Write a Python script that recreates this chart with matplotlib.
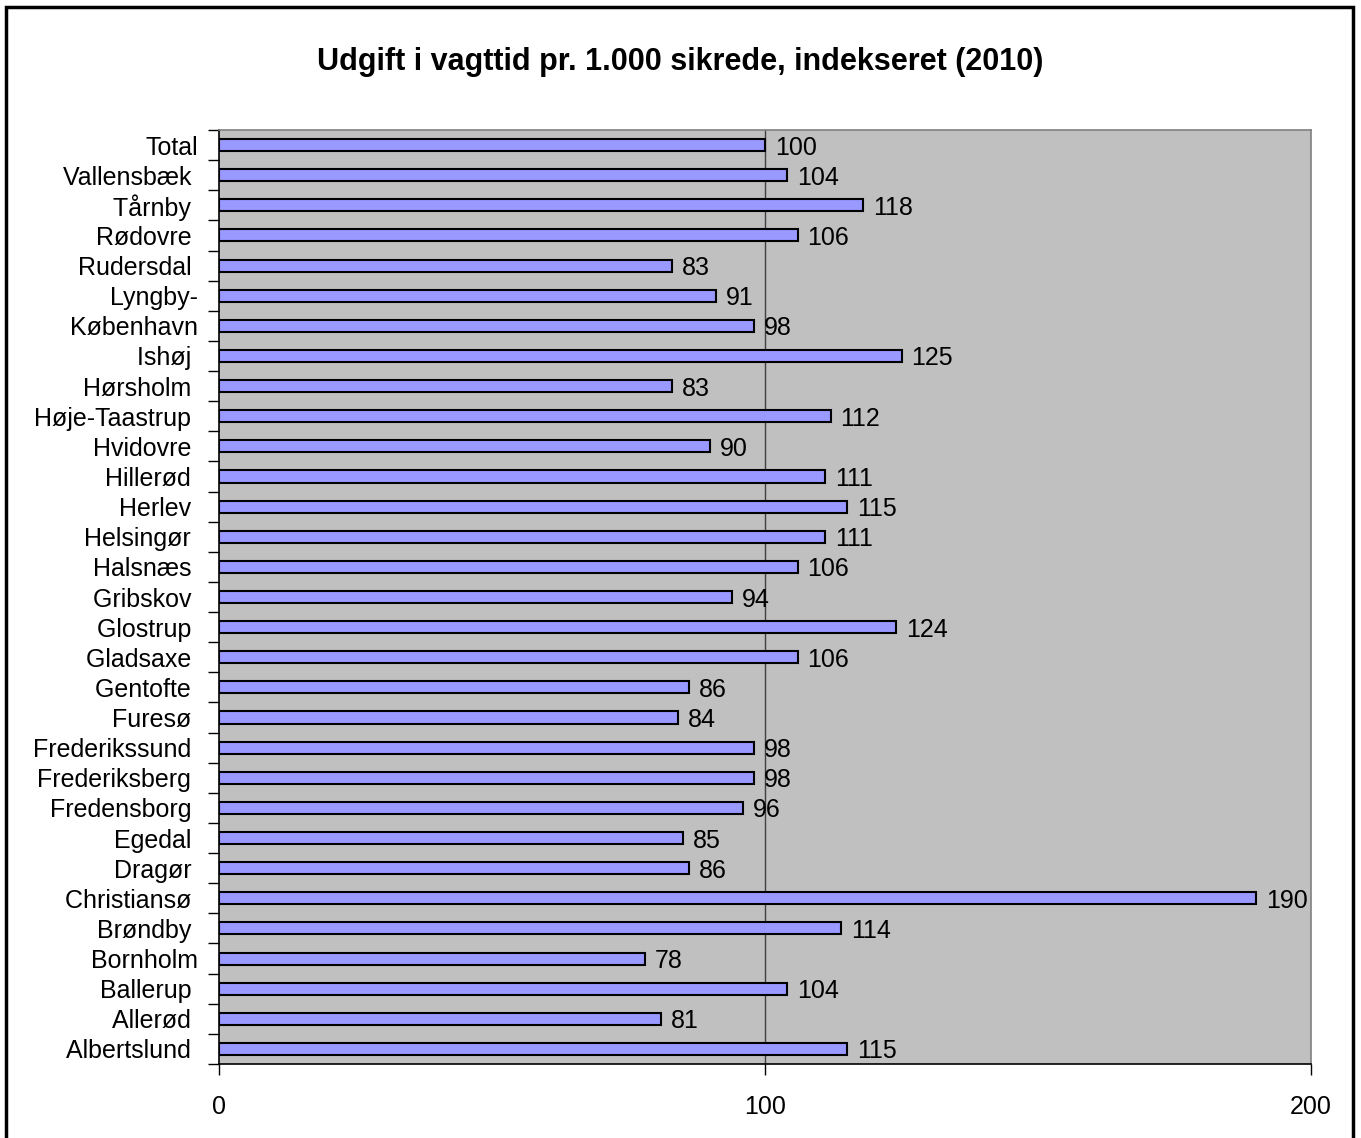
import matplotlib
matplotlib.use("Agg")
import matplotlib.pyplot as plt
from matplotlib.patches import Rectangle
import numpy as np

plt.rcParams['font.family'] = ['Liberation Sans', 'DejaVu Sans']

# bottom to top
categories = ["Albertslund ", "Allerød ", "Ballerup ", "Bornholm", "Brøndby ", "Christiansø ",
              "Dragør ", "Egedal ", "Fredensborg ", "Frederiksberg ", "Frederikssund ", "Furesø ",
              "Gentofte ", "Gladsaxe ", "Glostrup ", "Gribskov ", "Halsnæs ", "Helsingør ",
              "Herlev ", "Hillerød ", "Hvidovre ", "Høje-Taastrup ", "Hørsholm ", "Ishøj ",
              "København", "Lyngby-", "Rudersdal ", "Rødovre ", "Tårnby ", "Vallensbæk ", "Total"]
values = [115, 81, 104, 78, 114, 190, 86, 85, 96, 98, 98, 84, 86, 106, 124, 94, 106, 111,
          115, 111, 90, 112, 83, 125, 98, 91, 83, 106, 118, 104, 100]
xticks = [0, 100, 200]
title = "Udgift i vagttid pr. 1.000 sikrede, indekseret (2010)"

W, H = 1361, 1138
fig = plt.figure(figsize=(W / 100, H / 100), dpi=100)
ax = fig.add_axes([219 / W, 1 - 1064 / H, (1311 - 219) / W, (1064 - 130) / H])
ax.set_facecolor("#C0C0C0")

y = np.arange(len(categories))
ax.axvline(100, color="#404040", lw=1.0, zorder=1)
ax.barh(y, values, height=0.4, color="#9999FF", edgecolor="black", linewidth=1.5, zorder=2)
for yi, v in zip(y, values):
    ax.text(v + 1.8, yi, str(v), va="center_baseline", ha="left", fontsize=18, zorder=3)

ax.set_xlim(0, 200)
ax.set_ylim(-0.5, len(categories) - 0.5)
ax.set_xticks(xticks)
ax.set_xticklabels([str(t) for t in xticks], fontsize=18)
ax.tick_params(axis="x", length=8, width=1, pad=14, direction="out")
ax.set_yticks(y)
ax.set_yticklabels(categories, fontsize=18)
ax.tick_params(axis="y", which="major", length=0, pad=15)
ax.set_yticks(np.arange(-0.5, len(categories), 1.0), minor=True)
ax.tick_params(axis="y", which="minor", length=8, width=1, direction="out")

for s in ["left", "bottom"]:
    ax.spines[s].set_color("black")
    ax.spines[s].set_linewidth(1.2)
for s in ["top", "right"]:
    ax.spines[s].set_color("#808080")
    ax.spines[s].set_linewidth(1.2)

fig.text(680 / W, 1 - 62 / H, title, ha="center", va="center", fontsize=22, fontweight="bold")

fig.patches.append(Rectangle((6 / W, -0.01), (1353 - 6) / W, 1 - 7 / H + 0.01,
                             transform=fig.transFigure, fill=False, edgecolor="black",
                             linewidth=2.5))

fig.savefig("out.png", dpi=100)
